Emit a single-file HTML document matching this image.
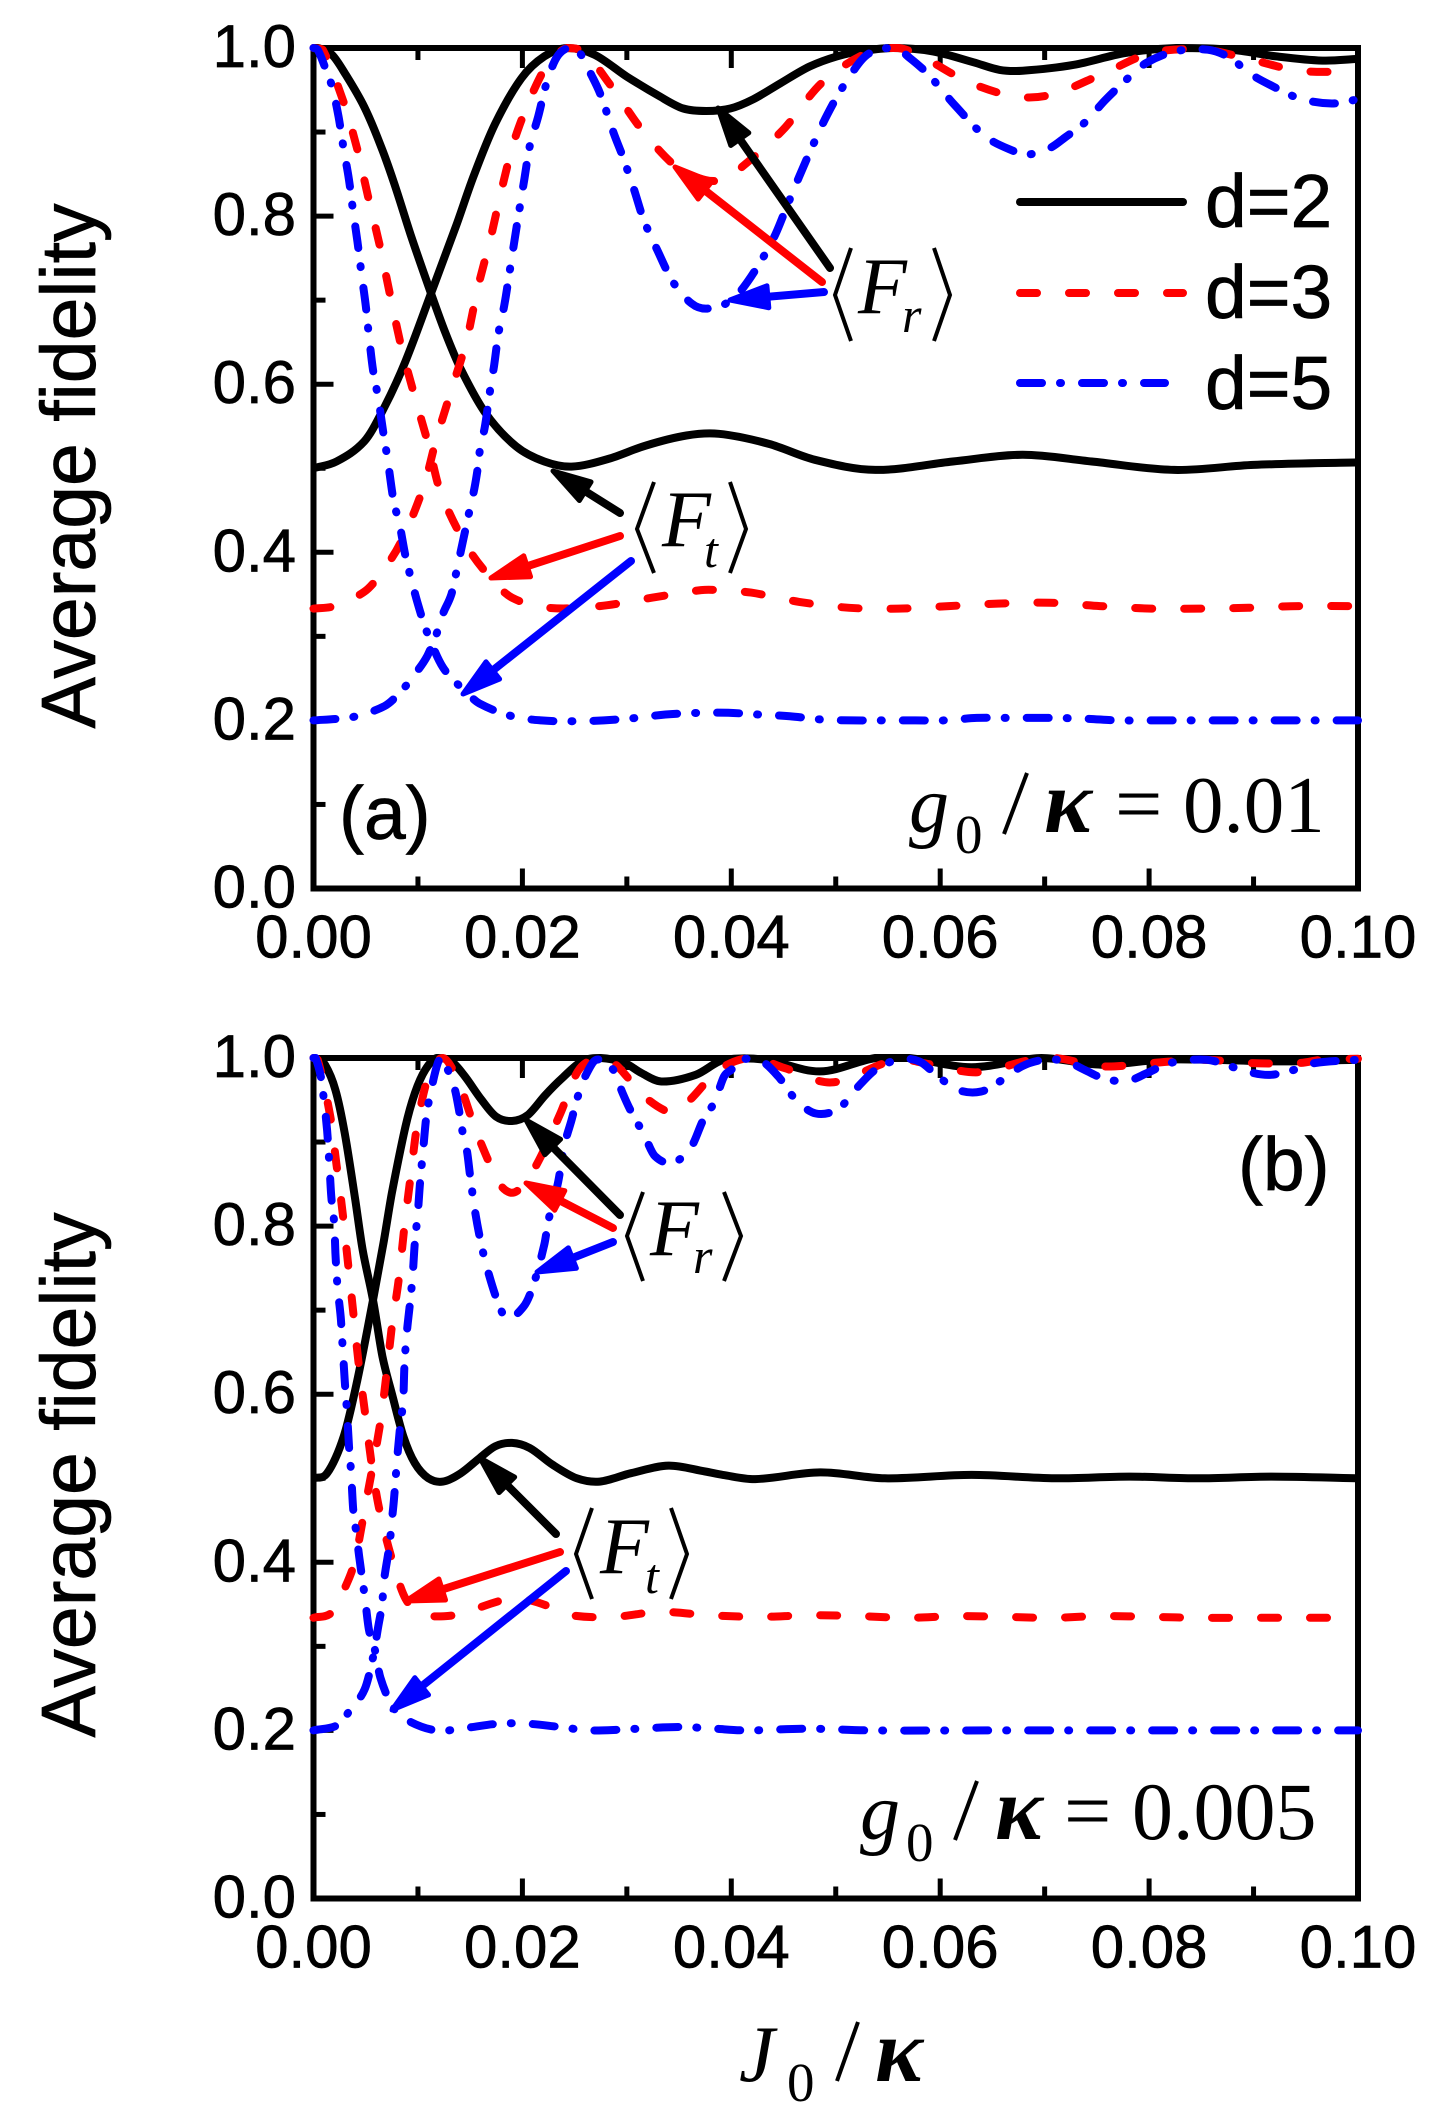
<!DOCTYPE html>
<html lang="en">
<head>
<meta charset="utf-8">
<title>Average fidelity vs J0/kappa</title>
<style>
html,body{margin:0;padding:0;background:#fff;}
svg{display:block;}
text{fill:#000;}
.sans{font-family:"Liberation Sans",Arial,sans-serif;stroke:#000;stroke-width:.7;}
.serif{font-family:"Liberation Serif","Times New Roman",serif;}
.it{font-style:italic;}
</style>
</head>
<body>
<svg id="chart" xmlns="http://www.w3.org/2000/svg" width="1446" height="2122" viewBox="0 0 1446 2122">
  <rect x="0" y="0" width="1446" height="2122" fill="#fff"/>
  <g id="panelA"></g>
  <g id="panelB"></g>

  <text class="sans" font-size="77" text-anchor="middle" transform="translate(95 466) rotate(-90)">Average fidelity</text>
  <text class="sans" font-size="77" text-anchor="middle" transform="translate(95 1475) rotate(-90)">Average fidelity</text>

  <g>
    <text class="serif it" x="739" y="2081" font-size="80">J</text>
    <text class="serif" x="787" y="2101" font-size="55">0</text>
    <line x1="858" y1="2022" x2="837" y2="2081" stroke="#000" stroke-width="4"/>
    <text class="serif it" font-weight="bold" x="875" y="2081" font-size="90">κ</text>
  </g>

  <g>
    <line x1="1020" y1="202" x2="1183" y2="202" stroke="#000" stroke-width="8" stroke-linecap="round"/>
    <text class="sans" x="1205" y="227" font-size="75">d=2</text>
    <line x1="1020" y1="293" x2="1183" y2="293" stroke="#ff0000" stroke-width="8" stroke-linecap="round" stroke-dasharray="17 32"/>
    <text class="sans" x="1205" y="318" font-size="75">d=3</text>
    <line x1="1020" y1="383" x2="1165" y2="383" stroke="#0000ff" stroke-width="8" stroke-linecap="round" stroke-dasharray="22 18 1 21"/>
    <text class="sans" x="1205" y="409" font-size="75">d=5</text>
  </g>

  <text class="sans" x="339" y="839" font-size="75">(a)</text>
  <text class="sans" x="1238" y="1190" font-size="75">(b)</text>

  <g>
    <text class="serif it" x="909" y="832" font-size="80">g</text>
    <text class="serif" x="955" y="853" font-size="55">0</text>
    <line x1="1027" y1="773" x2="1004" y2="834" stroke="#000" stroke-width="4"/>
    <text class="serif it" font-weight="bold" x="1044" y="832" font-size="90">κ</text>
    <text class="serif" x="1115" y="832" font-size="84">=</text>
    <text class="serif" x="1183" y="832" font-size="81">0.01</text>
  </g>
  <g>
    <text class="serif it" x="860" y="1839" font-size="80">g</text>
    <text class="serif" x="906" y="1861" font-size="55">0</text>
    <line x1="977" y1="1781" x2="955" y2="1840" stroke="#000" stroke-width="4"/>
    <text class="serif it" font-weight="bold" x="995" y="1839" font-size="90">κ</text>
    <text class="serif" x="1064" y="1839" font-size="84">=</text>
    <text class="serif" x="1132" y="1839" font-size="82">0.005</text>
  </g>

  <g>
    <polyline points="851,248 835,295 851,341" fill="none" stroke="#000" stroke-width="4"/>
    <polyline points="934,248 950,295 934,341" fill="none" stroke="#000" stroke-width="4"/>
    <text class="serif it" x="858" y="313" font-size="80">F</text>
    <text class="serif it" x="902" y="332" font-size="50">r</text>
  </g>
  <g>
    <polyline points="654,482 637,529 654,573" fill="none" stroke="#000" stroke-width="4"/>
    <polyline points="730,482 746,529 730,573" fill="none" stroke="#000" stroke-width="4"/>
    <text class="serif it" x="662" y="546" font-size="80">F</text>
    <text class="serif it" x="704" y="567" font-size="50">t</text>
  </g>
  <g>
    <polyline points="643,1192 627,1236 643,1281" fill="none" stroke="#000" stroke-width="4"/>
    <polyline points="724,1192 741,1236 724,1281" fill="none" stroke="#000" stroke-width="4"/>
    <text class="serif it" x="650" y="1255" font-size="80">F</text>
    <text class="serif it" x="693" y="1273" font-size="50">r</text>
  </g>
  <g>
    <polyline points="592,1508 576,1554 592,1599" fill="none" stroke="#000" stroke-width="4"/>
    <polyline points="671,1508 687,1554 671,1599" fill="none" stroke="#000" stroke-width="4"/>
    <text class="serif it" x="600" y="1573" font-size="80">F</text>
    <text class="serif it" x="645" y="1593" font-size="50">t</text>
  </g>
  <g id="arrows"></g>
</svg>

<script>
var xTickLabels = ["0.00","0.02","0.04","0.06","0.08","0.10"];
var xTickValues = [0,0.02,0.04,0.06,0.08,0.10];
var xMinorValues = [0.01,0.03,0.05,0.07,0.09];
var yTickLabels = ["0.0","0.2","0.4","0.6","0.8","1.0"];
var yTickValues = [0,0.2,0.4,0.6,0.8,1.0];
var yMinorValues = [0.1,0.3,0.5,0.7,0.9];

/* ===== Panel (a), g0/kappa = 0.01 ===== */
var aD2FallX = [0,.00044,.00177,.0031,.00485,.0064,.0077,.0093,.01125,.0126,.0141,.0165,.0194,.0221,.0247,.0282,.0318,.0357,.0388,.0436,.048,.0538,.0612,.0679,.0745,.0824,.09,.1];
var aD2FallY = [1,1,.992,.968,.93,.885,.84,.778,.708,.662,.618,.565,.526,.508,.502,.511,.527,.539,.541,.529,.51,.498,.508,.516,.508,.498,.504,.507];
var aD2RiseX = [0,.0022,.00485,.0066,.0088,.01125,.0137,.0154,.0174,.0199,.0221,.0243,.0269,.03,.0332,.0354,.0376,.0399,.0421,.0447,.0475,.0501,.0523,.0555,.0593,.0632,.0657,.0679,.0728,.0777,.0826,.0878,.0922,.0966,.1];
var aD2RiseY = [.5,.508,.532,.568,.627,.708,.79,.85,.91,.964,.99,1,.992,.966,.942,.928,.925,.928,.939,.958,.978,.99,.996,1,.996,.983,.974,.973,.98,.994,1,.998,.99,.985,.987];

var aD3FallX = [0,.00088,.00287,.0042,.0053,.0064,.0074,.0084,.0097,.011,.0121,.0146,.017,.019,.0225,.0274,.0324,.0371,.0388,.0419,.0465,.0513,.056,.0608,.0655,.0705,.0753,.0802,.0848,.0895,.0943,.1];
var aD3FallY = [1,.998,.936,.879,.819,.762,.702,.645,.585,.528,.474,.409,.369,.346,.334,.336,.346,.355,.355,.352,.341,.334,.333,.336,.339,.34,.336,.333,.333,.334,.336,.336];
var aD3RiseX = [0,.002,.00485,.0064,.0084,.0106,.0117,.0133,.0147,.0157,.0169,.018,.0192,.021,.0225,.0243,.026,.0283,.0316,.0349,.0375,.0392,.0403,.0449,.0487,.0533,.056,.0582,.0628,.0674,.0708,.0755,.0802,.0852,.0895,.0944,.1];
var aD3RiseY = [.333,.336,.353,.374,.413,.48,.532,.597,.654,.713,.771,.831,.889,.947,.982,1,.994,.958,.9,.857,.843,.843,.851,.902,.959,.996,1,.99,.959,.942,.945,.969,.994,.998,.987,.973,.972];

var aD5FallX = [0,.0004,.0012,.0018,.0024,.0029,.0034,.0038,.0042,.0046,.005,.0053,.0057,.0062,.0067,.0071,.0077,.0082,.0088,.0095,.0101,.0108,.0124,.0146,.0159,.019,.0218,.0247,.0278,.0309,.0337,.0371,.0397,.0426,.0456,.0487,.0516,.0547,.0576,.0604,.0635,.0666,.0706,.0739,.077,.0798,.083,.0858,.0889,.0917,.0948,.1];
var aD5FallY = [1,.998,.974,.953,.918,.879,.843,.805,.77,.731,.694,.658,.617,.583,.541,.51,.459,.436,.396,.361,.334,.307,.263,.234,.22,.205,.2,.199,.2,.203,.207,.209,.209,.207,.205,.201,.2,.2,.2,.2,.203,.203,.203,.202,.2,.2,.2,.2,.2,.2,.2,.2];
var aD5RiseX = [0,.0024,.0041,.0068,.0082,.0097,.0109,.0119,.0124,.0132,.0137,.0148,.0154,.0157,.016,.0164,.017,.0173,.0177,.0183,.0188,.0196,.0202,.0207,.0215,.0223,.023,.0236,.0245,.0255,.0266,.0275,.0287,.0296,.0307,.0316,.0329,.0344,.0362,.0377,.04,.0419,.0441,.0453,.0465,.0478,.0492,.0509,.053,.0557,.0571,.0589,.0614,.0643,.0671,.0683,.0705,.072,.0739,.0758,.0778,.0797,.0825,.0856,.0878,.0896,.0916,.0944,.0975,.1];
var aD5RiseY = [.2,.202,.205,.217,.232,.255,.277,.307,.327,.35,.378,.442,.476,.498,.528,.549,.601,.623,.66,.696,.736,.799,.845,.883,.918,.958,.982,.994,1,.994,.968,.944,.9,.871,.831,.796,.76,.722,.696,.69,.7,.728,.775,.811,.847,.884,.921,.958,.992,1,.988,.968,.932,.895,.877,.873,.881,.894,.912,.938,.962,.982,.996,.998,.988,.97,.956,.94,.934,.939];

/* ===== Panel (b), g0/kappa = 0.005 ===== */
var bD2FallX = [0,.0004,.0011,.0021,.003,.004,.0047,.0057,.0066,.0075,.0086,.0097,.011,.0124,.0141,.0159,.0174,.019,.0207,.0229,.0252,.0274,.0304,.034,.0375,.0392,.0423,.0485,.0547,.063,.071,.0781,.0847,.0917,.1];
var bD2FallY = [1,.998,.992,.962,.91,.831,.772,.712,.645,.601,.55,.518,.5,.496,.506,.524,.538,.542,.536,.516,.5,.496,.506,.515,.508,.504,.499,.507,.5,.504,.5,.502,.5,.502,.5];
var bD2RiseX = [0,.0013,.0029,.0042,.0057,.0067,.0075,.0088,.0097,.0107,.0118,.0132,.0145,.0161,.0175,.019,.0205,.0222,.0238,.0257,.0275,.0298,.0314,.0333,.0366,.0393,.0432,.0485,.0538,.057,.063,.0697,.0754,.0811,.0858,.0922,.1];
var bD2RiseY = [.5,.506,.55,.617,.712,.78,.839,.918,.958,.986,1,.996,.978,.95,.93,.925,.932,.956,.976,.996,1,.994,.982,.972,.98,.998,.998,.984,1,1,.989,1,.992,.998,.998,.996,.998];

var bD3FallX = [0,.0004,.0016,.0022,.0028,.0033,.0038,.0043,.0049,.0056,.0063,.0075,.0088,.0104,.0143,.0154,.0185,.0203,.0229,.0247,.0287,.0331,.0379,.0427,.0474,.0522,.0569,.0615,.0664,.0708,.0754,.0803,.0849,.0895,.0944,.1];
var bD3FallY = [1,.998,.931,.873,.815,.756,.698,.639,.581,.514,.463,.404,.357,.338,.338,.344,.356,.356,.346,.337,.335,.341,.337,.335,.337,.336,.334,.336,.335,.334,.336,.335,.334,.334,.334,.334];
var bD3RiseX = [0,.0018,.0033,.004,.0049,.0064,.007,.0075,.0082,.0087,.0093,.0099,.011,.0124,.0139,.0156,.0177,.0188,.0198,.0214,.0236,.0253,.0269,.0287,.03,.0313,.034,.0353,.0362,.0388,.0419,.0451,.0496,.0547,.0566,.0588,.0636,.0684,.071,.0755,.0802,.0852,.0896,.0944,.0966,.1];
var bD3RiseY = [.334,.341,.378,.404,.463,.566,.625,.68,.74,.799,.859,.918,.978,1,.971,.912,.853,.84,.845,.874,.933,.984,.998,.994,.978,.958,.936,.942,.952,.986,1,.988,.971,.994,.998,.993,.983,.997,1,.99,.994,.998,.994,.994,.998,.999];

var bD5FallX = [0,.0002,.0007,.001,.0013,.0015,.0017,.002,.0021,.0023,.0026,.0028,.003,.0032,.0034,.0036,.0038,.0041,.0044,.0049,.0053,.0058,.0064,.0075,.0087,.0117,.0146,.0177,.0205,.0236,.0264,.0295,.0324,.0355,.0384,.0414,.0474,.0533,.065,.1];
var bD5FallY = [1,1,.978,.95,.914,.877,.835,.801,.768,.728,.692,.655,.615,.581,.538,.507,.463,.435,.404,.36,.32,.3,.263,.23,.214,.2,.203,.208,.208,.204,.2,.201,.203,.204,.202,.2,.202,.2,.2,.2];
var bD5RiseX = [0,.0024,.0037,.0049,.0057,.0062,.0066,.0067,.0073,.0075,.0077,.008,.0083,.0086,.0087,.0089,.0092,.0095,.0097,.01,.0102,.0105,.0108,.0113,.0119,.0123,.0135,.0139,.0143,.0147,.015,.0155,.0161,.0168,.0177,.0185,.0201,.021,.0221,.0225,.0234,.024,.0247,.0254,.026,.0271,.0287,.0296,.0305,.0316,.0327,.0345,.0362,.0373,.0384,.0393,.04,.041,.0428,.0445,.0462,.0481,.0503,.052,.0538,.056,.058,.0598,.0617,.0639,.0657,.0678,.07,.0721,.0738,.0758,.078,.0798,.082,.0855,.0878,.09,.0917,.0939,.0959,.1];
var bD5RiseY = [.2,.207,.228,.249,.287,.324,.353,.374,.423,.449,.474,.522,.562,.595,.633,.669,.704,.742,.78,.817,.851,.891,.93,.964,.994,1,.964,.94,.91,.889,.859,.815,.776,.742,.708,.69,.704,.728,.778,.807,.851,.895,.926,.958,.978,.998,.986,.958,.934,.91,.883,.876,.895,.926,.948,.978,.986,.998,.997,.978,.95,.934,.94,.964,.986,.998,.996,.978,.962,.96,.972,.99,.998,.996,.986,.975,.973,.982,.994,.998,.99,.982,.98,.986,.994,.998];

var NS = "http://www.w3.org/2000/svg";
var plotLeft = 313.5, plotRight = 1358, plotWidth = plotRight - plotLeft, plotHeight = 840.5;
var xMax = 0.1;
var colorBlack = "#000000", colorRed = "#ff0000", colorBlue = "#0000ff";
var dashRed = "17 32", dashBlue = "22 18 1 21";

function sx(v){ return plotLeft + v / xMax * plotWidth; }

function smoothPath(xs, ys, yFn){
  var n = Math.min(xs.length, ys.length), slopes = [], i, d;
  for(i = 0; i < n; i++){
    var a = Math.max(0, i - 1), b = Math.min(n - 1, i + 1);
    slopes.push((ys[b] - ys[a]) / (xs[b] - xs[a]));
  }
  d = "M" + sx(xs[0]).toFixed(1) + " " + yFn(ys[0]).toFixed(1);
  for(i = 0; i < n - 1; i++){
    var h = (xs[i + 1] - xs[i]) / 3;
    var c1y = Math.min(1, ys[i] + slopes[i] * h);
    var c2y = Math.min(1, ys[i + 1] - slopes[i + 1] * h);
    d += "C" + sx(xs[i] + h).toFixed(1) + " " + yFn(c1y).toFixed(1) + " " +
         sx(xs[i + 1] - h).toFixed(1) + " " + yFn(c2y).toFixed(1) + " " +
         sx(xs[i + 1]).toFixed(1) + " " + yFn(ys[i + 1]).toFixed(1);
  }
  return d;
}

function addSeries(parent, name, xs, ys, yFn, color, dash){
  var p = document.createElementNS(NS, "path");
  p.setAttribute("d", smoothPath(xs, ys, yFn));
  p.setAttribute("fill", "none");
  p.setAttribute("stroke", color);
  p.setAttribute("stroke-width", "8");
  p.setAttribute("stroke-linejoin", "round");
  if(dash){ p.setAttribute("stroke-dasharray", dash); p.setAttribute("stroke-linecap", "round"); }
  
  
  parent.appendChild(p);
}

function addTick(parent, x1, y1, x2, y2, w){
  var l = document.createElementNS(NS, "line");
  l.setAttribute("x1", x1); l.setAttribute("y1", y1);
  l.setAttribute("x2", x2); l.setAttribute("y2", y2);
  l.setAttribute("stroke", "#000");
  l.setAttribute("stroke-width", w);
  
  
  parent.appendChild(l);
}

function addLabel(parent, str, x, y, anchor){
  var t = document.createElementNS(NS, "text");
  t.setAttribute("x", x); t.setAttribute("y", y);
  t.setAttribute("text-anchor", anchor);
  t.setAttribute("class", "sans");
  t.setAttribute("font-size", "60");
  t.textContent = str;
  
  
  parent.appendChild(t);
}

function drawAxes(g, top){
  var bottom = top + plotHeight;
  var yFn = function(v){ return bottom - v * plotHeight; };
  var frame = document.createElementNS(NS, "rect");
  frame.setAttribute("x", plotLeft); frame.setAttribute("y", top);
  frame.setAttribute("width", plotWidth); frame.setAttribute("height", plotHeight);
  frame.setAttribute("fill", "none"); frame.setAttribute("stroke", "#000");
  frame.setAttribute("stroke-width", "6");
  
  
  g.appendChild(frame);
  xTickValues.forEach(function(v, i){
    if(i > 0 && i < xTickValues.length - 1){
      addTick(g, sx(v), bottom, sx(v), bottom - 20, 5);
      addTick(g, sx(v), top, sx(v), top + 20, 5);
    }
    addLabel(g, xTickLabels[i], sx(v), bottom + 69, "middle");
  });
  xMinorValues.forEach(function(v){
    addTick(g, sx(v), bottom, sx(v), bottom - 12, 5);
    addTick(g, sx(v), top, sx(v), top + 12, 5);
  });
  yTickValues.forEach(function(v, i){
    if(i > 0 && i < yTickValues.length - 1){
      addTick(g, plotLeft, yFn(v), plotLeft + 20, yFn(v), 5);
    }
    addLabel(g, yTickLabels[i], 296, yFn(v) + 19, "end");
  });
  yMinorValues.forEach(function(v){
    addTick(g, plotLeft, yFn(v), plotLeft + 12, yFn(v), 5);
  });
  return yFn;
}

var panelA = document.getElementById("panelA");
var yA = drawAxes(panelA, 48);
addSeries(panelA, "series-d2-fall", aD2FallX, aD2FallY, yA, colorBlack);
addSeries(panelA, "series-d2-rise", aD2RiseX, aD2RiseY, yA, colorBlack);
addSeries(panelA, "series-d3-fall", aD3FallX, aD3FallY, yA, colorRed, dashRed);
addSeries(panelA, "series-d3-rise", aD3RiseX, aD3RiseY, yA, colorRed, dashRed);
addSeries(panelA, "series-d5-fall", aD5FallX, aD5FallY, yA, colorBlue, dashBlue);
addSeries(panelA, "series-d5-rise", aD5RiseX, aD5RiseY, yA, colorBlue, dashBlue);

var panelB = document.getElementById("panelB");
var yB = drawAxes(panelB, 1058);
addSeries(panelB, "series-d2-fall", bD2FallX, bD2FallY, yB, colorBlack);
addSeries(panelB, "series-d2-rise", bD2RiseX, bD2RiseY, yB, colorBlack);
addSeries(panelB, "series-d3-fall", bD3FallX, bD3FallY, yB, colorRed, dashRed);
addSeries(panelB, "series-d3-rise", bD3RiseX, bD3RiseY, yB, colorRed, dashRed);
addSeries(panelB, "series-d5-fall", bD5FallX, bD5FallY, yB, colorBlue, dashBlue);
addSeries(panelB, "series-d5-rise", bD5RiseX, bD5RiseY, yB, colorBlue, dashBlue);

function arrow(x1, y1, x2, y2, color, w){
  var g = document.getElementById("arrows");
  var dx = x2 - x1, dy = y2 - y1, L = Math.sqrt(dx * dx + dy * dy), ux = dx / L, uy = dy / L;
  var headLen = 38, half = 11;
  var l = document.createElementNS(NS, "line");
  l.setAttribute("x1", x1); l.setAttribute("y1", y1);
  l.setAttribute("x2", x2 - ux * 20); l.setAttribute("y2", y2 - uy * 20);
  l.setAttribute("stroke", color); l.setAttribute("stroke-width", w);
  l.setAttribute("stroke-linecap", "round");
  
  
  g.appendChild(l);
  var bx = x2 - ux * headLen, by = y2 - uy * headLen;
  var p = document.createElementNS(NS, "polygon");
  p.setAttribute("points", x2 + "," + y2 + " " + (bx - uy * half) + "," + (by + ux * half) + " " + (bx + uy * half) + "," + (by - ux * half));
  p.setAttribute("fill", color); p.setAttribute("stroke", color);
  p.setAttribute("stroke-width", "5"); p.setAttribute("stroke-linejoin", "round");
  
  
  g.appendChild(p);
}
arrow(830, 268, 718, 108, colorBlack, 8);
arrow(822, 282, 675, 167, colorRed, 8);
arrow(824, 292, 730, 300, colorBlue, 8);
arrow(620, 513, 553, 471, colorBlack, 8);
arrow(620, 536, 491, 578, colorRed, 8);
arrow(631, 561, 463, 694, colorBlue, 8);
arrow(620, 1215, 526, 1120, colorBlack, 8);
arrow(613, 1228, 526, 1183, colorRed, 8);
arrow(613, 1242, 537, 1272, colorBlue, 8);
arrow(556, 1534, 480, 1458, colorBlack, 8);
arrow(560, 1552, 406, 1601, colorRed, 8);
arrow(566, 1571, 392, 1710, colorBlue, 8);
</script>
</body>
</html>
